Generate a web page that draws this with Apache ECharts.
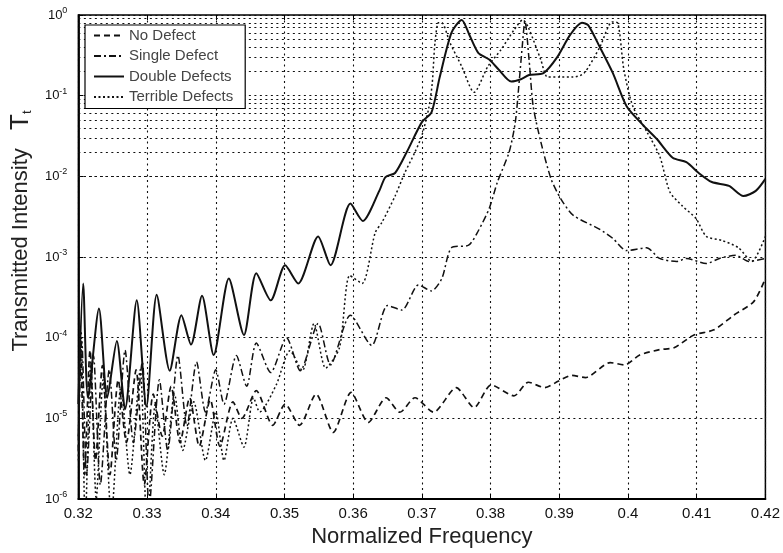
<!DOCTYPE html>
<html><head><meta charset="utf-8">
<script src="https://cdn.jsdelivr.net/npm/echarts@6/dist/echarts.min.js"></script>
<style>html,body{margin:0;padding:0;background:#fff}#c{width:783px;height:553px}</style>
</head><body><div id="c"></div>
<script>
const seriesNames = ['No Defect', 'Single Defect', 'Double Defects', 'Terrible Defects'];

const noDefectX = [0.3200,0.3203,0.3209,0.3217,0.3225,0.3235,0.3246,0.3258,0.3270,0.3284,0.3296,0.3309,0.3322,0.3335,0.3348,0.3362,0.3376,0.3392,0.3406,0.3425,0.3438,0.3459,0.3483,0.3501,0.3522,0.3546,0.3571,0.3597,0.3622,0.3648,0.3668,0.3690,0.3717,0.3750,0.3776,0.3801,0.3834,0.3855,0.3879,0.3899,0.3918,0.3938,0.3974,0.3995,0.4017,0.4046,0.4067,0.4096,0.4125,0.4154,0.4183,0.4200];
const noDefectY = [4e-6,9e-5,2e-6,7e-5,3e-6,4.5e-5,2e-6,3e-5,5e-6,4e-5,1.5e-6,2e-5,6e-6,2.5e-5,5e-6,1.8e-5,4.5e-6,1.7e-5,4.5e-6,1.6e-5,1.0e-5,2.2e-5,8.2e-6,1.5e-5,8.2e-6,2.0e-5,6.7e-6,2.1e-5,8.9e-6,1.8e-5,1.19e-5,1.8e-5,1.19e-5,2.4e-5,1.36e-5,2.6e-5,1.9e-5,2.8e-5,2.4e-5,2.9e-5,3.4e-5,3.2e-5,4.9e-5,4.6e-5,6.1e-5,7.1e-5,7.5e-5,1.08e-4,1.25e-4,1.9e-4,2.8e-4,5.4e-4];

const singleX = [0.3200,0.3205,0.3212,0.3222,0.3232,0.3245,0.3255,0.3268,0.3280,0.3293,0.3303,0.3318,0.3330,0.3345,0.3358,0.3372,0.3385,0.3400,0.3412,0.3430,0.3445,0.3459,0.3480,0.3503,0.3523,0.3549,0.3567,0.3596,0.3627,0.3650,0.3671,0.3695,0.3714,0.3729,0.3743,0.3768,0.3782,0.3798,0.3810,0.3827,0.3836,0.3841,0.3846,0.3850,0.3856,0.3862,0.3873,0.3888,0.3902,0.3920,0.3959,0.3978,0.3998,0.4027,0.4046,0.4071,0.4085,0.4114,0.4133,0.4157,0.4176,0.4200];
const singleY = [6e-6,9e-5,2e-6,6e-5,1.5e-6,4e-5,3e-6,7e-5,5e-6,5e-5,8e-7,3e-5,4e-6,6e-5,8e-6,5e-5,1.2e-5,4e-5,1.5e-5,6e-5,2.5e-5,8.6e-5,3.7e-5,1.0e-4,3.9e-5,1.5e-4,4.6e-5,1.9e-4,8e-5,2.5e-4,2.2e-4,4.5e-4,3.8e-4,5.4e-4,1.3e-3,1.4e-3,2.1e-3,4.0e-3,8.5e-3,0.020,0.047,0.13,0.40,0.85,0.28,0.074,0.027,9.3e-3,5.3e-3,3.3e-3,2.2e-3,1.7e-3,1.2e-3,1.3e-3,9.6e-4,8.8e-4,9.6e-4,8.3e-4,9.6e-4,1.05e-3,8.8e-4,9.6e-4];

const doubleX = [0.3200,0.3207,0.3214,0.3230,0.3242,0.3256,0.3268,0.3285,0.3299,0.3314,0.3333,0.3350,0.3364,0.3380,0.3397,0.3419,0.3441,0.3459,0.3480,0.3501,0.3520,0.3549,0.3567,0.3596,0.3614,0.3638,0.3647,0.3661,0.3678,0.3700,0.3714,0.3726,0.3743,0.3758,0.3769,0.3782,0.3798,0.3812,0.3830,0.3844,0.3856,0.3877,0.3897,0.3916,0.3933,0.3942,0.3959,0.3978,0.3998,0.4021,0.4042,0.4065,0.4085,0.4103,0.4122,0.4147,0.4168,0.4186,0.4200];
const doubleY = [1.5e-5,4.7e-4,1.8e-5,2.3e-4,1.8e-5,9.1e-5,1.3e-5,2.9e-4,1.4e-5,3.4e-4,3.9e-5,1.9e-4,8.2e-5,3.3e-4,6.1e-5,5.4e-4,1.08e-4,6.3e-4,2.9e-4,7.9e-4,4.7e-4,1.8e-3,7.9e-4,4.6e-3,2.8e-3,6.6e-3,9.8e-3,0.011,0.020,0.047,0.062,0.17,0.60,0.87,0.57,0.34,0.28,0.21,0.15,0.16,0.18,0.19,0.30,0.57,0.80,0.75,0.40,0.19,0.074,0.044,0.029,0.017,0.015,0.011,8.5e-3,7.6e-3,5.7e-3,6.6e-3,9.3e-3];

const terribleX = [0.3200,0.3204,0.3210,0.3218,0.3226,0.3236,0.3248,0.3262,0.3275,0.3290,0.3300,0.3312,0.3325,0.3340,0.3352,0.3368,0.3385,0.3400,0.3412,0.3425,0.3441,0.3455,0.3464,0.3488,0.3508,0.3526,0.3543,0.3560,0.3580,0.3595,0.3613,0.3632,0.3642,0.3661,0.3675,0.3690,0.3700,0.3710,0.3715,0.3719,0.3724,0.3729,0.3741,0.3758,0.3776,0.3796,0.3815,0.3834,0.3847,0.3855,0.3873,0.3883,0.3900,0.3920,0.3936,0.3959,0.3977,0.3985,0.3994,0.4007,0.4028,0.4046,0.4061,0.4079,0.4099,0.4114,0.4137,0.4161,0.4180,0.4200];
const terribleY = [3e-6,1.2e-4,5e-7,5e-5,1e-6,3e-5,6e-7,2.5e-5,2e-6,4e-5,4e-7,1.5e-5,2e-6,2e-5,4e-6,1.6e-5,3e-6,1.2e-5,3e-6,1e-5,4.4e-6,1.8e-5,1.2e-5,2.6e-5,6.9e-5,3.9e-5,1.5e-4,4.2e-5,7.5e-5,5.9e-4,4.7e-4,2.0e-3,2.7e-3,5.7e-3,0.011,0.020,0.032,0.070,0.14,0.45,0.80,0.80,0.45,0.23,0.11,0.23,0.37,0.65,0.87,0.70,0.28,0.17,0.17,0.17,0.19,0.40,0.82,0.80,0.21,0.074,0.035,0.018,6.4e-3,4.3e-3,3.0e-3,1.8e-3,1.6e-3,1.3e-3,8.8e-4,1.8e-3];

const xMin = 0.32, xMax = 0.42, xStep = 0.01;
const yMin = 1e-6, yMax = 1;
const minorMultipliers = [2,3,4,5,6,7,8,9];
const yDecades = [-6,-5,-4,-3,-2,-1];

function pairs(xs, ys) { return xs.map((x, i) => [x, ys[i]]); }

const minorLines = [];
yDecades.forEach(k => minorMultipliers.forEach(m => minorLines.push({ yAxis: +(m * Math.pow(10, k)).toPrecision(3) })));

const font = '"Liberation Sans", Arial, Helvetica, sans-serif';
const gridDot = { color: '#111', width: 1.1, type: [2, 3.5] };

const styles = [
  { type: [6, 4], width: 1.7 },
  { type: [7, 3, 2, 3], width: 1.5 },
  { type: 'solid', width: 2 },
  { type: [2, 2.5], width: 1.5 }
];
const dataSets = [pairs(noDefectX, noDefectY), pairs(singleX, singleY), pairs(doubleX, doubleY), pairs(terribleX, terribleY)];

const series = seriesNames.map((name, i) => ({
  name, type: 'line', data: dataSets[i], symbol: 'none', smooth: 0.25,
  clip: true, z: 5 + i,
  lineStyle: { color: '#111', width: styles[i].width, type: styles[i].type },
  itemStyle: { color: '#111' }
}));
series[0].markLine = {
  silent: true, symbol: ['none', 'none'], label: { show: false },
  lineStyle: gridDot, z: 1, data: minorLines, animation: false
};

const chart = echarts.init(document.getElementById('c'));
chart.setOption({
  animation: false,
  backgroundColor: '#fff',
  grid: { left: 73, top: 15, width: 694, height: 487, show: true, borderColor: '#000', borderWidth: 1.5, backgroundColor: 'transparent' },
  legend: {
    data: seriesNames, orient: 'vertical', left: 85, top: 25,
    padding: [3, 12, 4, 8], itemGap: 5.5, itemWidth: 30, itemHeight: 14,
    backgroundColor: '#fff', borderColor: '#000', borderWidth: 1.2,
    textStyle: { fontFamily: font, fontSize: 15, color: '#444', lineHeight: 14 },
    itemStyle: { color: 'rgba(0,0,0,0)', borderWidth: 0 },
    z: 20
  },
  xAxis: [{
    type: 'value', min: xMin, max: xMax, interval: xStep,
    name: 'Normalized Frequency', nameLocation: 'middle', nameGap: 27,
    nameTextStyle: { fontFamily: font, fontSize: 22, color: '#222' },
    axisLine: { show: true, lineStyle: { color: '#000', width: 1.8 } },
    axisTick: { show: true, inside: true, length: 5, lineStyle: { color: '#000' } },
    axisLabel: { fontFamily: font, fontSize: 15, color: '#111', margin: 7,
      formatter: v => String(Math.round(v * 100) / 100) },
    splitLine: { show: true, lineStyle: gridDot }
  }, {
    type: 'value', min: xMin, max: xMax, interval: xStep, position: 'top',
    axisLine: { show: false }, axisLabel: { show: false }, splitLine: { show: false },
    axisTick: { show: true, inside: true, length: 5, lineStyle: { color: '#000' } }
  }],
  yAxis: {
    type: 'log', logBase: 10, min: yMin, max: yMax, interval: 1,
    name: '{a|Transmitted Intensity   }{b|T}{c|t}', nameLocation: 'middle', nameGap: 44,
    nameTextStyle: { padding: [0, 0, 0, 52],
      rich: {
        a: { fontFamily: font, fontSize: 22, color: '#222' },
        b: { fontFamily: font, fontSize: 26, color: '#222' },
        c: { fontFamily: font, fontSize: 13, color: '#222', padding: [12, 0, 0, 0] }
      } },
    axisLine: { show: true, lineStyle: { color: '#000', width: 1.8 } },
    axisTick: { show: true, inside: true, length: 5, lineStyle: { color: '#000' } },
    axisLabel: {
      margin: 11,
      formatter: v => '{b|10}{s|' + Math.round(Math.log10(v)) + '}',
      rich: {
        b: { fontFamily: font, fontSize: 13, color: '#111' },
        s: { fontFamily: font, fontSize: 9, color: '#111', padding: [0, 0, 9, 0] }
      }
    },
    splitLine: { show: true, lineStyle: gridDot }
  },
  series
});
</script></body></html>
